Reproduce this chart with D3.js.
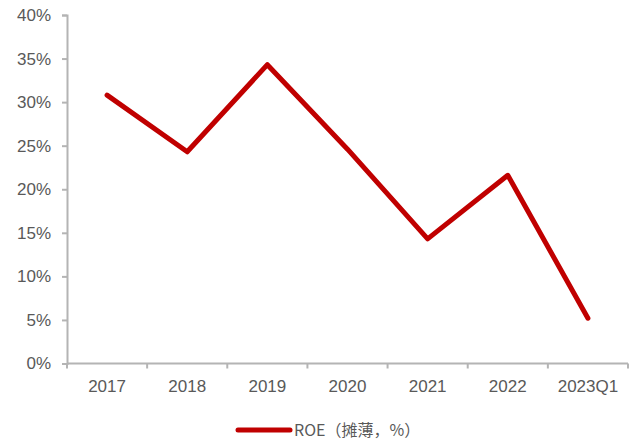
<!DOCTYPE html>
<html>
<head>
<meta charset="utf-8">
<script src="https://cdn.jsdelivr.net/npm/d3@7"></script>
<style>
  html, body { margin: 0; padding: 0; background: #fff; }
  svg { display: block; }
</style>
</head>
<body>
<svg id="chart" width="632" height="443"></svg>
<script>
// ROE (diluted) by period
const periods = ["2017", "2018", "2019", "2020", "2021", "2022", "2023Q1"];
const roeValues = [30.8, 24.3, 34.3, 24.6, 14.3, 21.6, 5.2];
const yTicks = [0, 5, 10, 15, 20, 25, 30, 35, 40];
const legendLabel = "ROE（摊薄，%）";

const svg = d3.select("#chart");
const margin = { left: 67, right: 4, top: 15, bottom: 79.5 };
const W = 632, H = 443;

const x = d3.scaleBand().domain(periods).range([margin.left, W - margin.right]).padding(0);
const y = d3.scaleLinear().domain([0, 40]).range([H - margin.bottom, margin.top]);

const axisColor = "#b4b4b4";
const textColor = "#595959";
const font = "'Liberation Sans', Arial, sans-serif";

// y axis
const yAxis = svg.append("g")
  .attr("transform", `translate(${margin.left},0)`)
  .call(d3.axisLeft(y).tickValues(yTicks).tickFormat(d => d + "%").tickSizeOuter(0).tickSize(5).tickPadding(11));
yAxis.select(".domain").attr("stroke", axisColor).attr("stroke-width", 2);
yAxis.selectAll(".tick line").attr("stroke", axisColor).attr("stroke-width", 2);
yAxis.selectAll(".tick text").attr("fill", textColor).attr("font-family", font).attr("font-size", 17);

// x axis with ticks at band boundaries
const xAxis = svg.append("g")
  .attr("transform", `translate(0,${y(0)})`);
xAxis.append("line")
  .attr("x1", margin.left).attr("x2", W - margin.right)
  .attr("stroke", axisColor).attr("stroke-width", 2);
const bounds = periods.map(p => x(p)).concat([x(periods[periods.length - 1]) + x.bandwidth()]);
xAxis.selectAll("line.tk").data(bounds).join("line")
  .attr("class", "tk")
  .attr("x1", d => d).attr("x2", d => d)
  .attr("y1", 0).attr("y2", 5)
  .attr("stroke", axisColor).attr("stroke-width", 2);
xAxis.selectAll("text").data(periods).join("text")
  .attr("x", d => x(d) + x.bandwidth() / 2)
  .attr("y", 28)
  .attr("text-anchor", "middle")
  .attr("fill", textColor)
  .attr("font-family", font)
  .attr("font-size", 17)
  .text(d => d);

// line
const line = d3.line()
  .x((d, i) => x(periods[i]) + x.bandwidth() / 2)
  .y(d => y(d));
svg.append("path")
  .datum(roeValues)
  .attr("d", line)
  .attr("fill", "none")
  .attr("stroke", "#c00000")
  .attr("stroke-width", 5)
  .attr("stroke-linejoin", "round")
  .attr("stroke-linecap", "round");

// legend
const lg = svg.append("g").attr("transform", "translate(238,430)");
lg.append("line")
  .attr("x1", 0).attr("x2", 52)
  .attr("stroke", "#c00000").attr("stroke-width", 5).attr("stroke-linecap", "round");
lg.append("text")
  .attr("x", 56).attr("y", 6)
  .attr("fill", textColor)
  .attr("font-family", "'Noto Sans CJK SC', sans-serif")
  .attr("font-size", 16)
  .text(legendLabel);
</script>
</body>
</html>
